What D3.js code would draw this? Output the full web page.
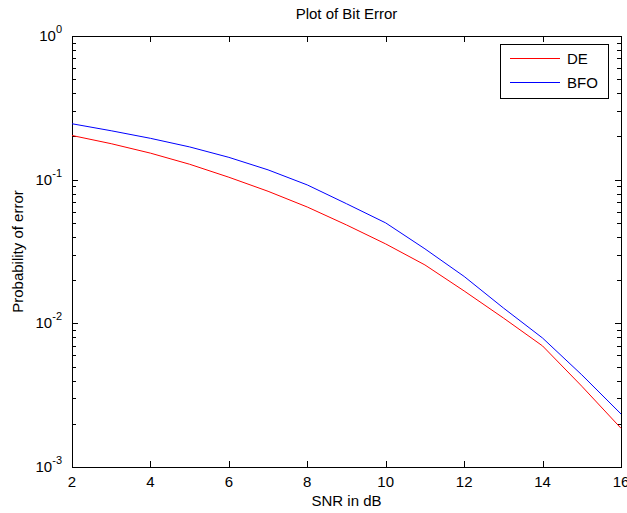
<!DOCTYPE html>
<html>
<head>
<meta charset="utf-8">
<script src="https://cdn.jsdelivr.net/npm/d3@7/dist/d3.min.js"></script>
<style>
body { margin: 0; background: #fff; }
text { font-family: "Liberation Sans", Arial, sans-serif; fill: #000; }
</style>
</head>
<body>
<script>
// data
var snr = [2, 3, 4, 5, 6, 7, 8, 9, 10, 11, 12, 13, 14, 15, 16];
var de = [0.203, 0.178, 0.153, 0.128, 0.104, 0.083, 0.0645, 0.0484, 0.0357, 0.0255, 0.0168, 0.0109, 0.00696, 0.00365, 0.00186];
var bfo = [0.245, 0.219, 0.194, 0.169, 0.143, 0.117, 0.0919, 0.068, 0.050, 0.033, 0.0212, 0.0128, 0.0079, 0.00438, 0.00234];
var xTicks = [2, 4, 6, 8, 10, 12, 14, 16];
var yExps = [0, -1, -2, -3];
var seriesNames = ['DE', 'BFO'];
var seriesColors = ['#ff0000', '#0000ff'];

(function(){
var width = 627, height = 513;
var mL = 72, mR = 621, mT = 36, mB = 467;
var fs = '15px';

var svg = d3.select('body').append('svg')
  .attr('width', width)
  .attr('height', height);

var x = d3.scaleLinear().domain([2, 16]).range([mL, mR]);
var y = d3.scaleLog().domain([1e-3, 1]).range([mB, mT]);

// minor log ticks
var minor = [];
yExps.forEach(function(e){
  if (e === 0) return;
  for (var k = 2; k <= 9; k++) minor.push(k * Math.pow(10, e));
});

var g = svg.append('g').attr('stroke', '#000').attr('stroke-width', 1).attr('shape-rendering', 'crispEdges');

// ticks inward, all four sides
xTicks.forEach(function(t){
  var px = Math.round(x(t)) + 0.5;
  g.append('line').attr('x1', px).attr('x2', px).attr('y1', mB).attr('y2', mB - 6);
  g.append('line').attr('x1', px).attr('x2', px).attr('y1', mT).attr('y2', mT + 6);
});
yExps.forEach(function(e){
  var py = Math.round(y(Math.pow(10, e))) + 0.5;
  g.append('line').attr('x1', mL).attr('x2', mL + 6).attr('y1', py).attr('y2', py);
  g.append('line').attr('x1', mR).attr('x2', mR - 6).attr('y1', py).attr('y2', py);
});
minor.forEach(function(v){
  var py = Math.round(y(v)) + 0.5;
  g.append('line').attr('x1', mL).attr('x2', mL + 4).attr('y1', py).attr('y2', py);
  g.append('line').attr('x1', mR).attr('x2', mR - 4).attr('y1', py).attr('y2', py);
});

g.append('rect')
  .attr('x', mL + 0.5).attr('y', mT + 0.5)
  .attr('width', mR - mL).attr('height', mB - mT)
  .attr('fill', 'none');

// tick labels
svg.selectAll('text.xt').data(xTicks).enter().append('text')
  .attr('class', 'xt')
  .attr('x', function(d){ return x(d); })
  .attr('y', mB + 20)
  .attr('text-anchor', 'middle')
  .style('font-size', fs)
  .text(function(d){ return d; });

yExps.forEach(function(e){
  var t = svg.append('text')
    .attr('x', mL - 10)
    .attr('y', y(Math.pow(10, e)) + 5)
    .attr('text-anchor', 'end')
    .style('font-size', fs);
  t.append('tspan').text('10');
  t.append('tspan').attr('dy', -8).style('font-size', '11px').text(e);
});

// lines
var line = d3.line()
  .x(function(d){ return x(d[0]); })
  .y(function(d){ return y(d[1]); });

[de, bfo].forEach(function(vals, i){
  svg.append('path')
    .datum(snr.map(function(s, j){ return [s, vals[j]]; }))
    .attr('d', line)
    .attr('fill', 'none')
    .style('stroke', seriesColors[i])
    .attr('stroke-width', 1);
});

// titles
svg.append('text')
  .attr('x', (mL + mR) / 2).attr('y', 19)
  .attr('text-anchor', 'middle')
  .style('font-size', fs)
  .text('Plot of Bit Error');

svg.append('text')
  .attr('x', (mL + mR) / 2).attr('y', 506)
  .attr('text-anchor', 'middle')
  .style('font-size', fs)
  .text('SNR in dB');

svg.append('text')
  .attr('transform', 'translate(23,' + (mT + mB) / 2 + ') rotate(-90)')
  .attr('text-anchor', 'middle')
  .style('font-size', fs)
  .text('Probability of error');

// legend
var lg = svg.append('g');
lg.append('rect')
  .attr('x', 500.5).attr('y', 44.5).attr('width', 108).attr('height', 54)
  .attr('fill', '#fff').attr('stroke', '#000').attr('shape-rendering', 'crispEdges');
seriesNames.forEach(function(n, i){
  var ly = 58 + i * 24;
  lg.append('line')
    .attr('x1', 510).attr('x2', 560).attr('y1', ly + 0.5).attr('y2', ly + 0.5)
    .attr('stroke', seriesColors[i]).attr('shape-rendering', 'crispEdges');
  lg.append('text')
    .attr('x', 567).attr('y', ly + 6)
    .style('font-size', fs)
    .text(n);
});
})();
</script>
</body>
</html>
